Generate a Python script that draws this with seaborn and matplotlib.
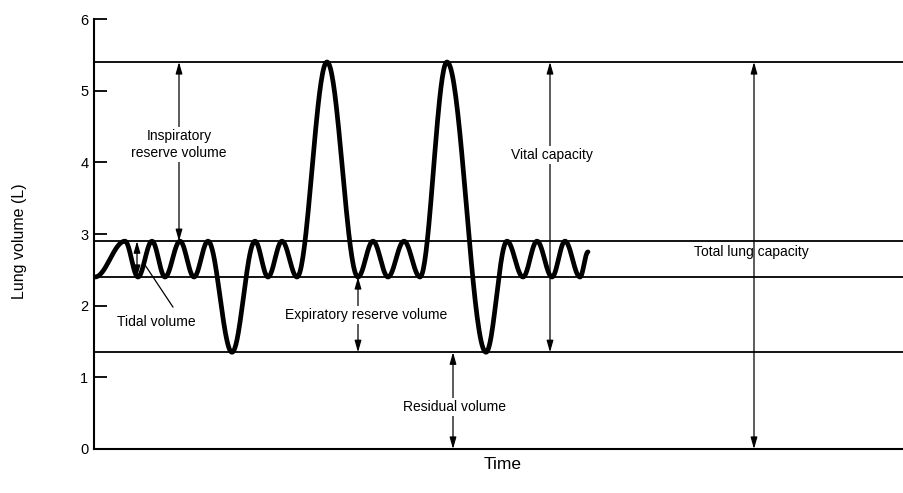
import numpy as np
import pandas as pd
import matplotlib
matplotlib.use("Agg")
import matplotlib.pyplot as plt
import seaborn as sns

# Spirogram turning points: time (arbitrary units) and lung volume (L)
peak_time = [1, 31, 44, 58, 71, 86, 100, 114, 138, 161, 174, 188, 203,
             233, 264, 279, 294, 310, 326, 353, 392, 413, 429, 443, 458,
             471, 486, 494]
peak_volume = [2.4, 2.9, 2.4, 2.9, 2.4, 2.9, 2.4, 2.9, 1.35, 2.9, 2.4, 2.9, 2.4,
               5.4, 2.4, 2.9, 2.4, 2.9, 2.4, 5.4, 1.35, 2.9, 2.4, 2.9, 2.4,
               2.9, 2.4, 2.75]

# Reference volume levels (L)
levels = [5.4, 2.9, 2.4, 1.35]

# Measurement arrows: x position, top volume, bottom volume
arrow_x = [85, 43, 264, 359, 456, 660]
arrow_top = [5.4, 2.9, 2.4, 1.35, 5.4, 5.4]
arrow_bottom = [2.9, 2.4, 1.35, 0.0, 1.35, 0.0]

# Labels for the measured volumes
label_text = ["Inspiratory\nreserve volume", "Tidal volume",
              "Expiratory reserve volume", "Residual volume",
              "Vital capacity", "Total lung capacity"]
label_x = [85, 62, 272, 361, 458, 657]
label_y = [4.25, 1.77, 1.87, 0.586, 4.10, 2.75]
label_box = [True, False, True, True, True, False]

y_ticks = [0, 1, 2, 3, 4, 5, 6]


def smooth_trace(tx, vy, n=40):
    """Join successive turning points with half-cosine strokes."""
    xs, ys = [], []
    for i in range(len(tx) - 1):
        t = np.linspace(0.0, 1.0, n, endpoint=False)
        s = 0.5 - 0.5 * np.cos(np.pi * t)
        xs.append(tx[i] + (tx[i + 1] - tx[i]) * t)
        ys.append(vy[i] + (vy[i + 1] - vy[i]) * s)
    xs.append([tx[-1]])
    ys.append([vy[-1]])
    return np.concatenate(xs), np.concatenate(ys)


sns.set_theme(style="white")
plt.rcParams["font.family"] = ["Liberation Sans", "DejaVu Sans"]
plt.rcParams["text.color"] = "black"
plt.rcParams["axes.labelcolor"] = "black"
plt.rcParams["ytick.color"] = "black"
plt.rcParams["xtick.color"] = "black"

fig = plt.figure(figsize=(9.04, 4.93), dpi=100)
ax = fig.add_axes([94 / 904, 44 / 493, 810 / 904, 430 / 493])

tx, vy = smooth_trace(peak_time, peak_volume)
df = pd.DataFrame({"Time": tx, "Volume": vy})

for lv in levels:
    ax.axhline(lv, color="black", lw=1.3, zorder=1)

sns.lineplot(data=df, x="Time", y="Volume", sort=False, estimator=None,
             color="black", lw=3.4, ax=ax, zorder=3,
             solid_capstyle="round", solid_joinstyle="round")

arrow_style = "<|-|>,head_length=0.7,head_width=0.2"
for x, yt, yb in zip(arrow_x, arrow_top, arrow_bottom):
    ax.annotate("", xy=(x, yb), xytext=(x, yt),
                arrowprops=dict(arrowstyle=arrow_style, color="black",
                                lw=0.9, shrinkA=0, shrinkB=0,
                                mutation_scale=10),
                zorder=2)

# Leader from the tidal arrow down to its label
ax.plot([49, 79], [2.61, 1.98], color="black", lw=0.9, zorder=2)

for txt, x, y, boxed in zip(label_text, label_x, label_y, label_box):
    kw = {}
    if boxed:
        kw["bbox"] = dict(boxstyle="square,pad=0.15", fc="white", ec="none")
    ax.text(x, y, txt, ha="center", va="center", fontsize=10,
            color="black", linespacing=1.2, zorder=4, **kw)

ax.set_xlim(0, 810)
ax.set_ylim(0, 6)
ax.set_yticks(y_ticks)
ax.set_xticks([])
ax.tick_params(axis="y", direction="in", length=9.5, width=1.3,
               pad=4, labelsize=10.5, left=True, colors="black")

for side in ["top", "right"]:
    ax.spines[side].set_visible(False)
for side in ["left", "bottom"]:
    ax.spines[side].set_color("black")
    ax.spines[side].set_linewidth(1.5)

ax.set_ylabel("Lung volume (L)", fontsize=11.5, color="black")
ax.yaxis.set_label_coords(-0.083, 0.484)
ax.set_xlabel("Time", fontsize=12.5, color="black")
ax.xaxis.set_label_coords(0.504, -0.019)

fig.savefig("out.png", dpi=100, facecolor="white")
